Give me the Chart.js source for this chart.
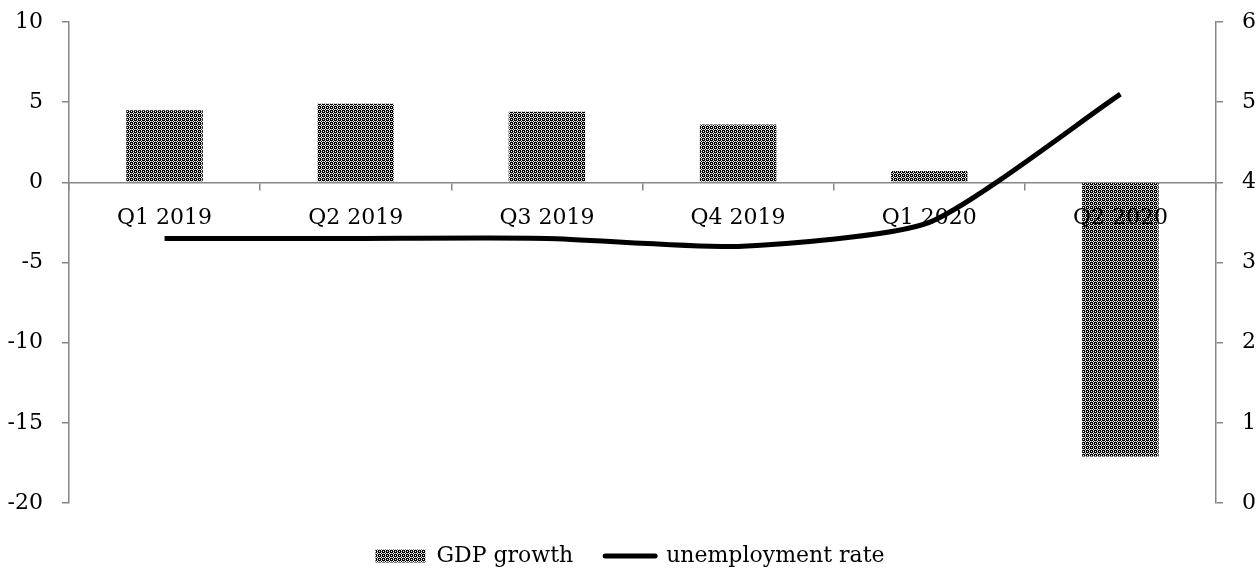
<!DOCTYPE html>
<html lang="en">
<head>
    <meta charset="UTF-8">
    <title>GDP growth and unemployment rate</title>
    <script src="https://cdn.jsdelivr.net/npm/chart.js"></script>
    <style>
        html, body {
            margin: 0;
            padding: 0;
            background: white;
        }
        #wrap {
            width: 1260px;
            height: 570px;
        }
    </style>
</head>
<body>
    <div id="wrap"><canvas id="growthChart"></canvas></div>
    <script>
        const quarters = ['Q1 2019', 'Q2 2019', 'Q3 2019', 'Q4 2019', 'Q1 2020', 'Q2 2020'];
        const gdpGrowth = [4.5, 4.9, 4.4, 3.6, 0.7, -17.1];
        const unemployment = [3.3, 3.3, 3.3, 3.2, 3.5, 5.1];
        const leftTicks = [-20, 10, 5];   // min, max, step
        const rightTicks = [0, 6, 1];

        const axisGrey = '#868686';
        const serif = { family: '"DejaVu Serif", serif', size: 22 };

        // small dotted-grid fill for the bars
        function makePattern() {
            const tile = document.createElement('canvas');
            tile.width = 4;
            tile.height = 4;
            const t = tile.getContext('2d');
            const rows = ['KWKK', 'WKWG', 'KWKK', 'KGKW'];
            const colours = { K: '#000000', W: '#ffffff', G: '#8c8c8c' };
            rows.forEach((row, y) => {
                row.split('').forEach((c, x) => {
                    t.fillStyle = colours[c];
                    t.fillRect(x, y, 1, 1);
                });
            });
            return t.createPattern(tile, 'repeat');
        }
        const barFill = makePattern();

        // keep the legend low under the plot
        const legendSpacing = {
            id: 'legendSpacing',
            beforeInit(chart) {
                const fit = chart.legend.fit;
                chart.legend.fit = function () {
                    fit.call(this);
                    this.height = 67;
                };
            },
            afterLayout(chart) {
                chart.legend.top += 10;
                chart.legend.bottom += 10;
            }
        };

        // fixed axis widths, no extra room reserved for the end labels
        function fitSide(width) {
            return function (scale) {
                scale.width = width;
                scale.paddingTop = 0;
                scale.paddingBottom = 0;
            };
        }

        const ctx = document.getElementById('growthChart').getContext('2d');
        new Chart(ctx, {
            data: {
                labels: quarters,
                datasets: [{
                    type: 'bar',
                    label: 'GDP growth',
                    data: gdpGrowth,
                    backgroundColor: barFill,
                    borderWidth: 0,
                    barPercentage: 0.4,
                    categoryPercentage: 1,
                    yAxisID: 'y',
                    order: 1
                }, {
                    type: 'line',
                    label: 'unemployment rate',
                    data: unemployment,
                    borderColor: '#000000',
                    borderWidth: 5,
                    tension: 0.2,
                    pointRadius: 0,
                    fill: false,
                    yAxisID: 'y1',
                    order: 0
                }]
            },
            options: {
                responsive: true,
                maintainAspectRatio: false,
                animation: false,
                layout: {
                    padding: { top: 22, left: 0, right: 0, bottom: 0 }
                },
                plugins: {
                    tooltip: { enabled: false },
                    legend: {
                        position: 'bottom',
                        labels: {
                            font: serif,
                            color: '#000000',
                            padding: 32,
                            usePointStyle: true,
                            pointStyleWidth: 50,
                            boxHeight: 13,
                            generateLabels: function () {
                                return [{
                                    text: 'GDP growth',
                                    fillStyle: barFill,
                                    strokeStyle: 'rgba(0,0,0,0)',
                                    lineWidth: 0,
                                    pointStyle: 'rect',
                                    datasetIndex: 0
                                }, {
                                    text: 'unemployment rate',
                                    fillStyle: '#000000',
                                    strokeStyle: '#000000',
                                    lineWidth: 5,
                                    lineCap: 'round',
                                    pointStyle: 'line',
                                    datasetIndex: 1
                                }];
                            }
                        }
                    }
                },
                scales: {
                    x: {
                        position: { y: 0 },
                        afterFit: function (scale) { scale.height = 0; },
                        border: { color: axisGrey, width: 1.5 },
                        grid: {
                            offset: true,
                            drawOnChartArea: false,
                            tickLength: 7,
                            color: axisGrey,
                            lineWidth: 1.5
                        },
                        ticks: {
                            font: serif,
                            color: '#000000',
                            padding: 16,
                            maxRotation: 0,
                            z: 1
                        }
                    },
                    y: {
                        position: 'left',
                        min: leftTicks[0],
                        max: leftTicks[1],
                        afterFit: fitSide(69),
                        border: { color: axisGrey, width: 1.5 },
                        grid: {
                            drawOnChartArea: false,
                            tickLength: 7,
                            color: axisGrey,
                            lineWidth: 1.5
                        },
                        ticks: {
                            stepSize: leftTicks[2],
                            font: serif,
                            color: '#000000',
                            padding: 19
                        }
                    },
                    y1: {
                        position: 'right',
                        min: rightTicks[0],
                        max: rightTicks[1],
                        afterFit: fitSide(44),
                        border: { color: axisGrey, width: 1.5 },
                        grid: {
                            drawOnChartArea: false,
                            tickLength: 7,
                            color: axisGrey,
                            lineWidth: 1.5
                        },
                        ticks: {
                            stepSize: rightTicks[2],
                            font: serif,
                            color: '#000000',
                            padding: 19
                        }
                    }
                }
            },
            plugins: [legendSpacing]
        });
    </script>
</body>
</html>
